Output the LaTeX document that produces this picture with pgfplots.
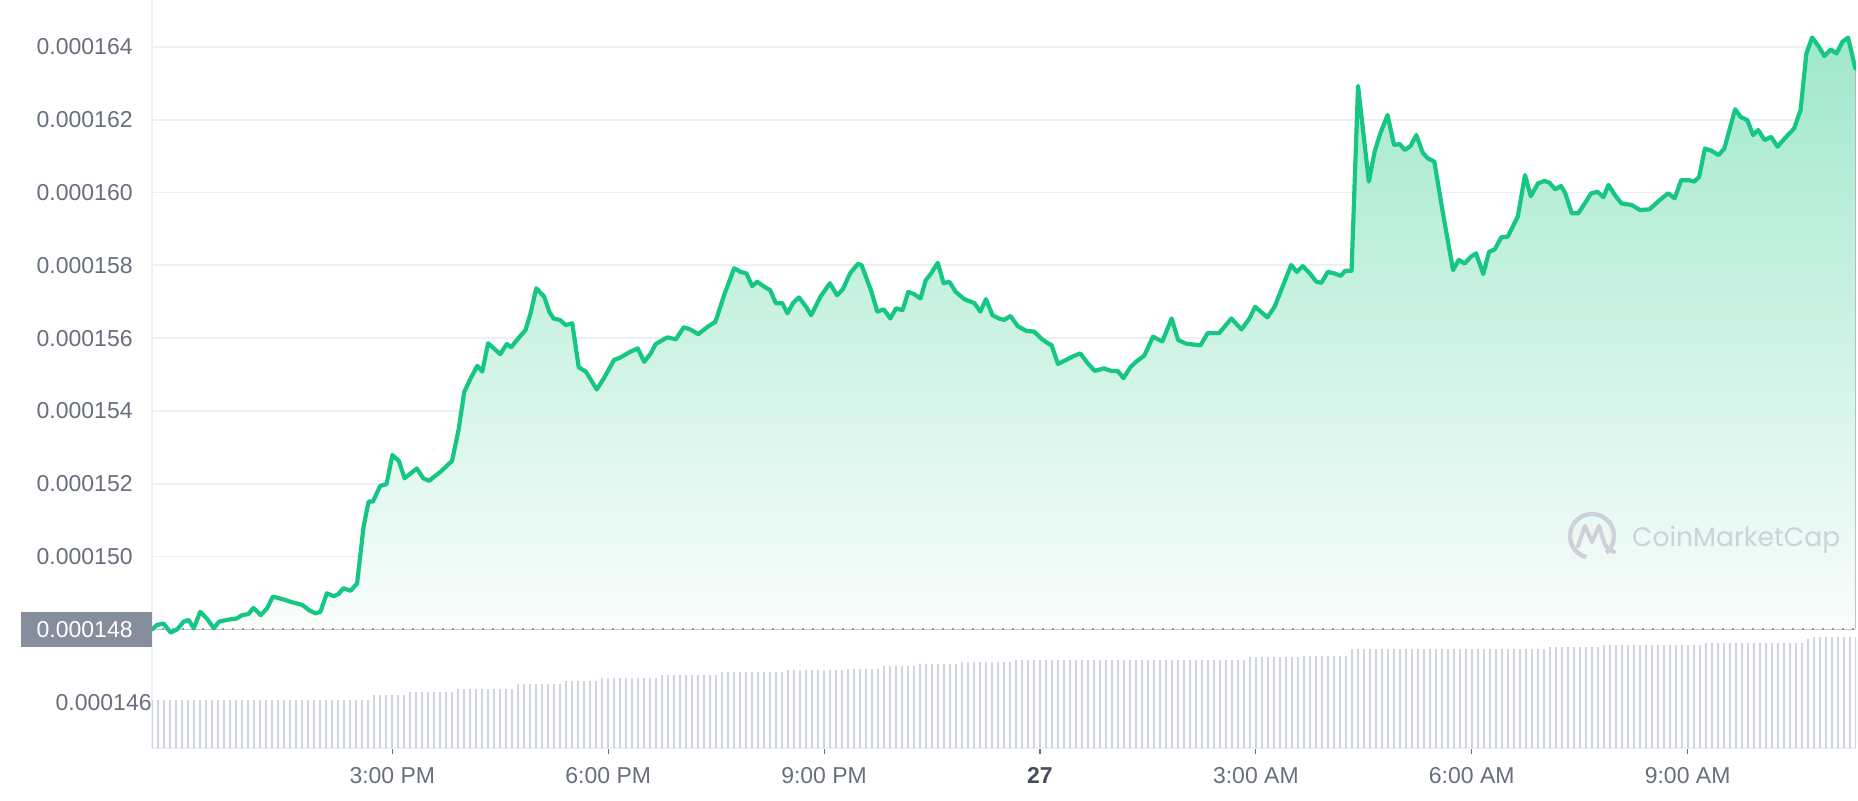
\documentclass[border=0pt]{standalone}
\usepackage{fontspec}
\setmainfont{Liberation Sans}
\newfontfamily\wmfont{Poppins}
\usepackage{pgfplots}
\usepackage{pgfplotstable}
\pgfplotsset{compat=1.18}
\usepgfplotslibrary{fillbetween}

\definecolor{cmcgreen}{RGB}{22,199,132}
\definecolor{filltop}{RGB}{160,232,205}
\definecolor{fillbottom}{RGB}{250,253,252}
\definecolor{gridgray}{RGB}{236,239,243}
\definecolor{labelgray}{RGB}{104,110,124}
\definecolor{darklabel}{RGB}{70,76,90}
\definecolor{volgray}{RGB}{208,213,223}
\definecolor{dotgray}{RGB}{150,157,170}
\definecolor{boxgray}{RGB}{134,141,156}
\definecolor{markgray}{RGB}{204,209,218}

\newcommand\tickfont{\fontsize{11.5}{13}\selectfont}
\newcommand\pricebox[1]{{\setlength{\fboxsep}{0pt}\colorbox{boxgray}{\rule[-4.9pt]{0pt}{17.5pt}\hspace{8pt}\textcolor{white}{#1}\hspace{9.5pt}}}}

% price, hours from midnight of the 27th
\pgfplotstableread{
h p
-12.34 148.00
-12.27 148.12
-12.18 148.16
-12.08 147.91
-11.99 148.00
-11.90 148.21
-11.83 148.26
-11.76 148.03
-11.67 148.48
-11.58 148.30
-11.48 148.03
-11.41 148.21
-11.30 148.26
-11.16 148.30
-11.09 148.39
-11.00 148.42
-10.93 148.59
-10.83 148.39
-10.74 148.58
-10.66 148.90
-10.51 148.82
-10.42 148.76
-10.25 148.67
-10.16 148.53
-10.07 148.44
-10.00 148.48
-9.91 148.99
-9.81 148.91
-9.75 148.97
-9.68 149.13
-9.58 149.06
-9.49 149.26
-9.40 150.82
-9.33 151.51
-9.27 151.51
-9.17 151.94
-9.08 151.99
-9.00 152.79
-8.91 152.63
-8.83 152.15
-8.66 152.42
-8.57 152.15
-8.49 152.08
-8.33 152.33
-8.17 152.63
-8.08 153.48
-8.00 154.53
-7.91 154.90
-7.82 155.24
-7.75 155.08
-7.67 155.86
-7.59 155.72
-7.50 155.56
-7.41 155.84
-7.35 155.75
-7.26 155.97
-7.15 156.22
-7.08 156.68
-7.00 157.37
-6.89 157.14
-6.82 156.73
-6.76 156.54
-6.67 156.50
-6.59 156.36
-6.50 156.41
-6.41 155.20
-6.31 155.08
-6.16 154.59
-6.06 154.90
-5.92 155.40
-5.83 155.47
-5.69 155.63
-5.59 155.72
-5.50 155.35
-5.41 155.58
-5.34 155.84
-5.18 156.02
-5.06 155.97
-4.95 156.30
-4.86 156.24
-4.75 156.11
-4.62 156.31
-4.51 156.45
-4.39 157.18
-4.25 157.92
-4.16 157.82
-4.08 157.78
-4.00 157.43
-3.93 157.55
-3.83 157.41
-3.75 157.32
-3.67 156.96
-3.58 156.96
-3.51 156.68
-3.43 156.97
-3.35 157.12
-3.25 156.86
-3.18 156.63
-3.05 157.14
-2.92 157.51
-2.82 157.18
-2.74 157.34
-2.64 157.78
-2.53 158.04
-2.48 158.01
-2.35 157.32
-2.26 156.73
-2.17 156.79
-2.08 156.54
-2.00 156.82
-1.91 156.77
-1.83 157.27
-1.75 157.21
-1.66 157.09
-1.59 157.58
-1.52 157.76
-1.42 158.07
-1.34 157.51
-1.26 157.55
-1.17 157.27
-1.05 157.07
-0.91 156.96
-0.83 156.73
-0.75 157.07
-0.66 156.63
-0.57 156.54
-0.50 156.50
-0.41 156.61
-0.31 156.33
-0.19 156.20
-0.08 156.18
0.01 156.00
0.10 155.87
0.16 155.81
0.25 155.29
0.36 155.40
0.47 155.51
0.56 155.58
0.66 155.32
0.76 155.10
0.89 155.17
0.99 155.10
1.08 155.10
1.16 154.90
1.26 155.21
1.34 155.36
1.45 155.52
1.57 156.04
1.70 155.91
1.83 156.54
1.92 155.95
2.03 155.85
2.23 155.80
2.33 156.14
2.49 156.14
2.66 156.54
2.80 156.24
2.91 156.54
2.99 156.86
3.16 156.57
3.26 156.86
3.49 158.01
3.57 157.82
3.65 157.98
3.75 157.78
3.84 157.55
3.91 157.52
4.00 157.82
4.09 157.78
4.18 157.71
4.24 157.85
4.33 157.85
4.42 162.93
4.57 160.30
4.65 161.12
4.73 161.63
4.83 162.13
4.92 161.31
5.00 161.33
5.07 161.17
5.15 161.28
5.23 161.58
5.32 161.09
5.39 160.94
5.48 160.85
5.60 159.43
5.74 157.87
5.82 158.15
5.90 158.05
5.99 158.24
6.06 158.33
6.16 157.76
6.24 158.37
6.32 158.44
6.41 158.77
6.50 158.79
6.64 159.34
6.74 160.48
6.82 159.90
6.92 160.25
7.01 160.32
7.08 160.27
7.16 160.09
7.24 160.18
7.30 159.98
7.39 159.43
7.48 159.43
7.57 159.70
7.66 159.98
7.75 160.02
7.83 159.87
7.90 160.21
7.99 159.93
8.08 159.70
8.22 159.66
8.34 159.52
8.47 159.54
8.61 159.79
8.73 159.98
8.82 159.84
8.91 160.34
9.02 160.34
9.09 160.30
9.16 160.43
9.24 161.21
9.33 161.15
9.43 161.03
9.51 161.21
9.66 162.29
9.74 162.07
9.83 161.99
9.91 161.58
9.98 161.72
10.07 161.44
10.16 161.53
10.25 161.26
10.35 161.49
10.48 161.76
10.57 162.27
10.65 163.82
10.73 164.26
10.82 164.02
10.90 163.75
10.99 163.93
11.07 163.82
11.15 164.14
11.23 164.26
11.33 163.41
}\price

\begin{document}
\begin{tikzpicture}

% volume bars, minutes from midnight
\begin{axis}[
  at={(76pt,26pt)}, anchor=south west,
  scale only axis, width=852pt, height=374pt,
  xmin=-740.4, xmax=680.4, ymin=0, ymax=748,
  axis x line*=bottom, axis y line=none,
  xtick={-540,-360,-180,0,180,360,540},
  xticklabels={3:00 PM,6:00 PM,9:00 PM,\textbf{\textcolor{darklabel}{27}},3:00 AM,6:00 AM,9:00 AM},
  tick align=outside, major tick length=3pt,
  x axis line style={gridgray, line width=0.8pt},
  xtick style={labelgray, line width=0.6pt},
  xticklabel style={font=\tickfont, text=labelgray, yshift=-3pt},
]
\addplot[ycomb, volgray, line width=1pt, mark=none] coordinates {
(-740,48.5) (-735,48.5) (-730,48.5) (-725,48.5) (-720,48.5) (-715,48.5) (-710,48.5) (-705,48.5) (-700,48.5) (-695,48.5)
(-690,48.5) (-685,48.5) (-680,48.5) (-675,48.5) (-670,48.5) (-665,48.5) (-660,48.5) (-655,48.5) (-650,48.5) (-645,48.5)
(-640,48.5) (-635,48.5) (-630,48.5) (-625,48.5) (-620,48.5) (-615,48.5) (-610,48.5) (-605,48.5) (-600,48.5) (-595,48.5)
(-590,48.5) (-585,48.5) (-580,48.5) (-575,48.5) (-570,48.5) (-565,48.5) (-560,48.5)
(-555,53) (-550,53) (-545,53) (-540,53) (-535,53) (-530,53)
(-525,56) (-520,56) (-515,56) (-510,56) (-505,56) (-500,56) (-495,56) (-490,56)
(-485,59) (-480,59) (-475,59) (-470,59) (-465,59) (-460,59) (-455,59) (-450,59) (-445,59) (-440,59)
(-435,64) (-430,64) (-425,64) (-420,64) (-415,64) (-410,64) (-405,64) (-400,64)
(-395,67) (-390,67) (-385,67) (-380,67) (-375,67) (-370,67)
(-365,70) (-360,70) (-355,70) (-350,70) (-345,70) (-340,70) (-335,70) (-330,70) (-325,70) (-320,70)
(-315,73) (-310,73) (-305,73) (-300,73) (-295,73) (-290,73) (-285,73) (-280,73) (-275,73) (-270,73)
(-265,76) (-260,76) (-255,76) (-250,76) (-245,76) (-240,76) (-235,76) (-230,76) (-225,76) (-220,76) (-215,76)
(-210,78) (-205,78) (-200,78) (-195,78) (-190,78) (-185,78) (-180,78) (-175,78) (-170,78) (-165,78)
(-160,79.5) (-155,79.5) (-150,79.5) (-145,79.5) (-140,79.5) (-135,79.5)
(-130,82) (-125,82) (-120,82) (-115,82) (-110,82) (-105,82)
(-100,84.5) (-95,84.5) (-90,84.5) (-85,84.5) (-80,84.5) (-75,84.5) (-70,84.5)
(-65,86.5) (-60,86.5) (-55,86.5) (-50,86.5) (-45,86.5) (-40,86.5) (-35,86.5) (-30,86.5) (-25,86.5)
(-20,88.5) (-15,88.5) (-10,88.5) (-5,88.5) (0,88.5) (5,88.5) (10,88.5) (15,88.5) (20,88.5) (25,88.5)
(30,88.5) (35,88.5) (40,88.5) (45,88.5) (50,88.5) (55,88.5) (60,88.5) (65,88.5) (70,88.5) (75,88.5)
(80,88.5) (85,88.5) (90,88.5) (95,88.5) (100,88.5) (105,88.5) (110,88.5) (115,88.5) (120,88.5) (125,88.5)
(130,88.5) (135,88.5) (140,88.5) (145,88.5) (150,88.5) (155,88.5) (160,88.5) (165,88.5) (170,88.5)
(175,91) (180,91) (185,91) (190,91) (195,91) (200,91) (205,91) (210,91) (215,91)
(220,92.5) (225,92.5) (230,92.5) (235,92.5) (240,92.5) (245,92.5) (250,92.5) (255,92.5)
(260,99.5) (265,99.5) (270,99.5) (275,99.5) (280,99.5) (285,99.5) (290,99.5) (295,99.5) (300,99.5) (305,99.5)
(310,99.5) (315,99.5) (320,99.5) (325,99.5) (330,99.5) (335,99.5) (340,99.5) (345,99.5) (350,99.5) (355,99.5)
(360,99.5) (365,99.5) (370,99.5) (375,99.5) (380,99.5) (385,99.5) (390,99.5) (395,99.5) (400,99.5) (405,99.5)
(410,99.5) (415,99.5) (420,99.5)
(425,101.3) (430,101.3) (435,101.3) (440,101.3) (445,101.3) (450,101.3) (455,101.3) (460,101.3) (465,101.3)
(470,103) (475,103) (480,103) (485,103) (490,103) (495,103) (500,103) (505,103) (510,103) (515,103)
(520,103) (525,103) (530,103) (535,103) (540,103) (545,103) (550,103)
(555,104.7) (560,104.7) (565,104.7) (570,104.7) (575,104.7) (580,104.7) (585,104.7) (590,104.7) (595,104.7) (600,104.7)
(605,104.7) (610,104.7) (615,104.7) (620,104.7) (625,104.7) (630,104.7) (635,104.7)
(640,109)
(645,111.3) (650,111.3) (655,111.3) (660,111.3) (665,111.3) (670,111.3) (675,111.3) (680,111.3)
};
\end{axis}

% price
\begin{axis}[
  at={(76pt,26pt)}, anchor=south west,
  scale only axis, width=852pt, height=374pt,
  set layers,
  xmin=-12.34, xmax=11.34, ymin=144.74, ymax=165.29,
  axis x line=none, axis y line*=left,
  y axis line style={gridgray, line width=0.8pt},
  xtick=\empty,
  ytick={150,152,154,156,158,160,162,164},
  yticklabels={0.000150,0.000152,0.000154,0.000156,0.000158,0.000160,0.000162,0.000164},
  extra y ticks={146,148},
  extra y tick labels={0.000146\hspace{9.5pt},\pricebox{0.000148}},
  extra y tick style={grid=none, yticklabel style={xshift=9.5pt}},
  ymajorgrids, major grid style={gridgray, line width=0.9pt},
  major tick length=0pt, ytick style={draw=none},
  yticklabel style={font=\tickfont, text=labelgray, inner xsep=0pt, xshift=-9.5pt},
]
\addplot[name path=price, draw=none] table[x=h, y=p] {\price};
\addplot[name path=base, draw=none] coordinates {(-12.34,148) (11.33,148)};
\addplot[top color=filltop, bottom color=fillbottom, draw=none, on layer=axis background] fill between[of=price and base];
\addplot[dotgray, line width=0.9pt, dash pattern=on 0.9pt off 4.1pt] coordinates {(-12.34,148) (11.34,148)};
\addplot[cmcgreen, line width=2.1pt, line join=round, line cap=round] table[x=h, y=p] {\price};
\end{axis}

% watermark
\draw[markgray, line width=2.2pt] (796pt,132pt) ++(-50:11pt) arc[start angle=-50, end angle=255, radius=11pt];
\draw[markgray, line width=2pt, line join=round, line cap=round]
  (789pt,127pt) -- (792.5pt,137pt) -- (796pt,129pt) -- (799.5pt,137pt) -- (802pt,129pt) to[out=-70,in=160] (807pt,124pt);
\node[anchor=base west, inner sep=0pt, text=markgray, font=\wmfont\fontsize{13.3}{16}\selectfont] at (815.8pt,126.7pt) {CoinMarketCap};

\pgfresetboundingbox
\path[use as bounding box] (0,0) rectangle (929pt,400pt);
\end{tikzpicture}
\end{document}
